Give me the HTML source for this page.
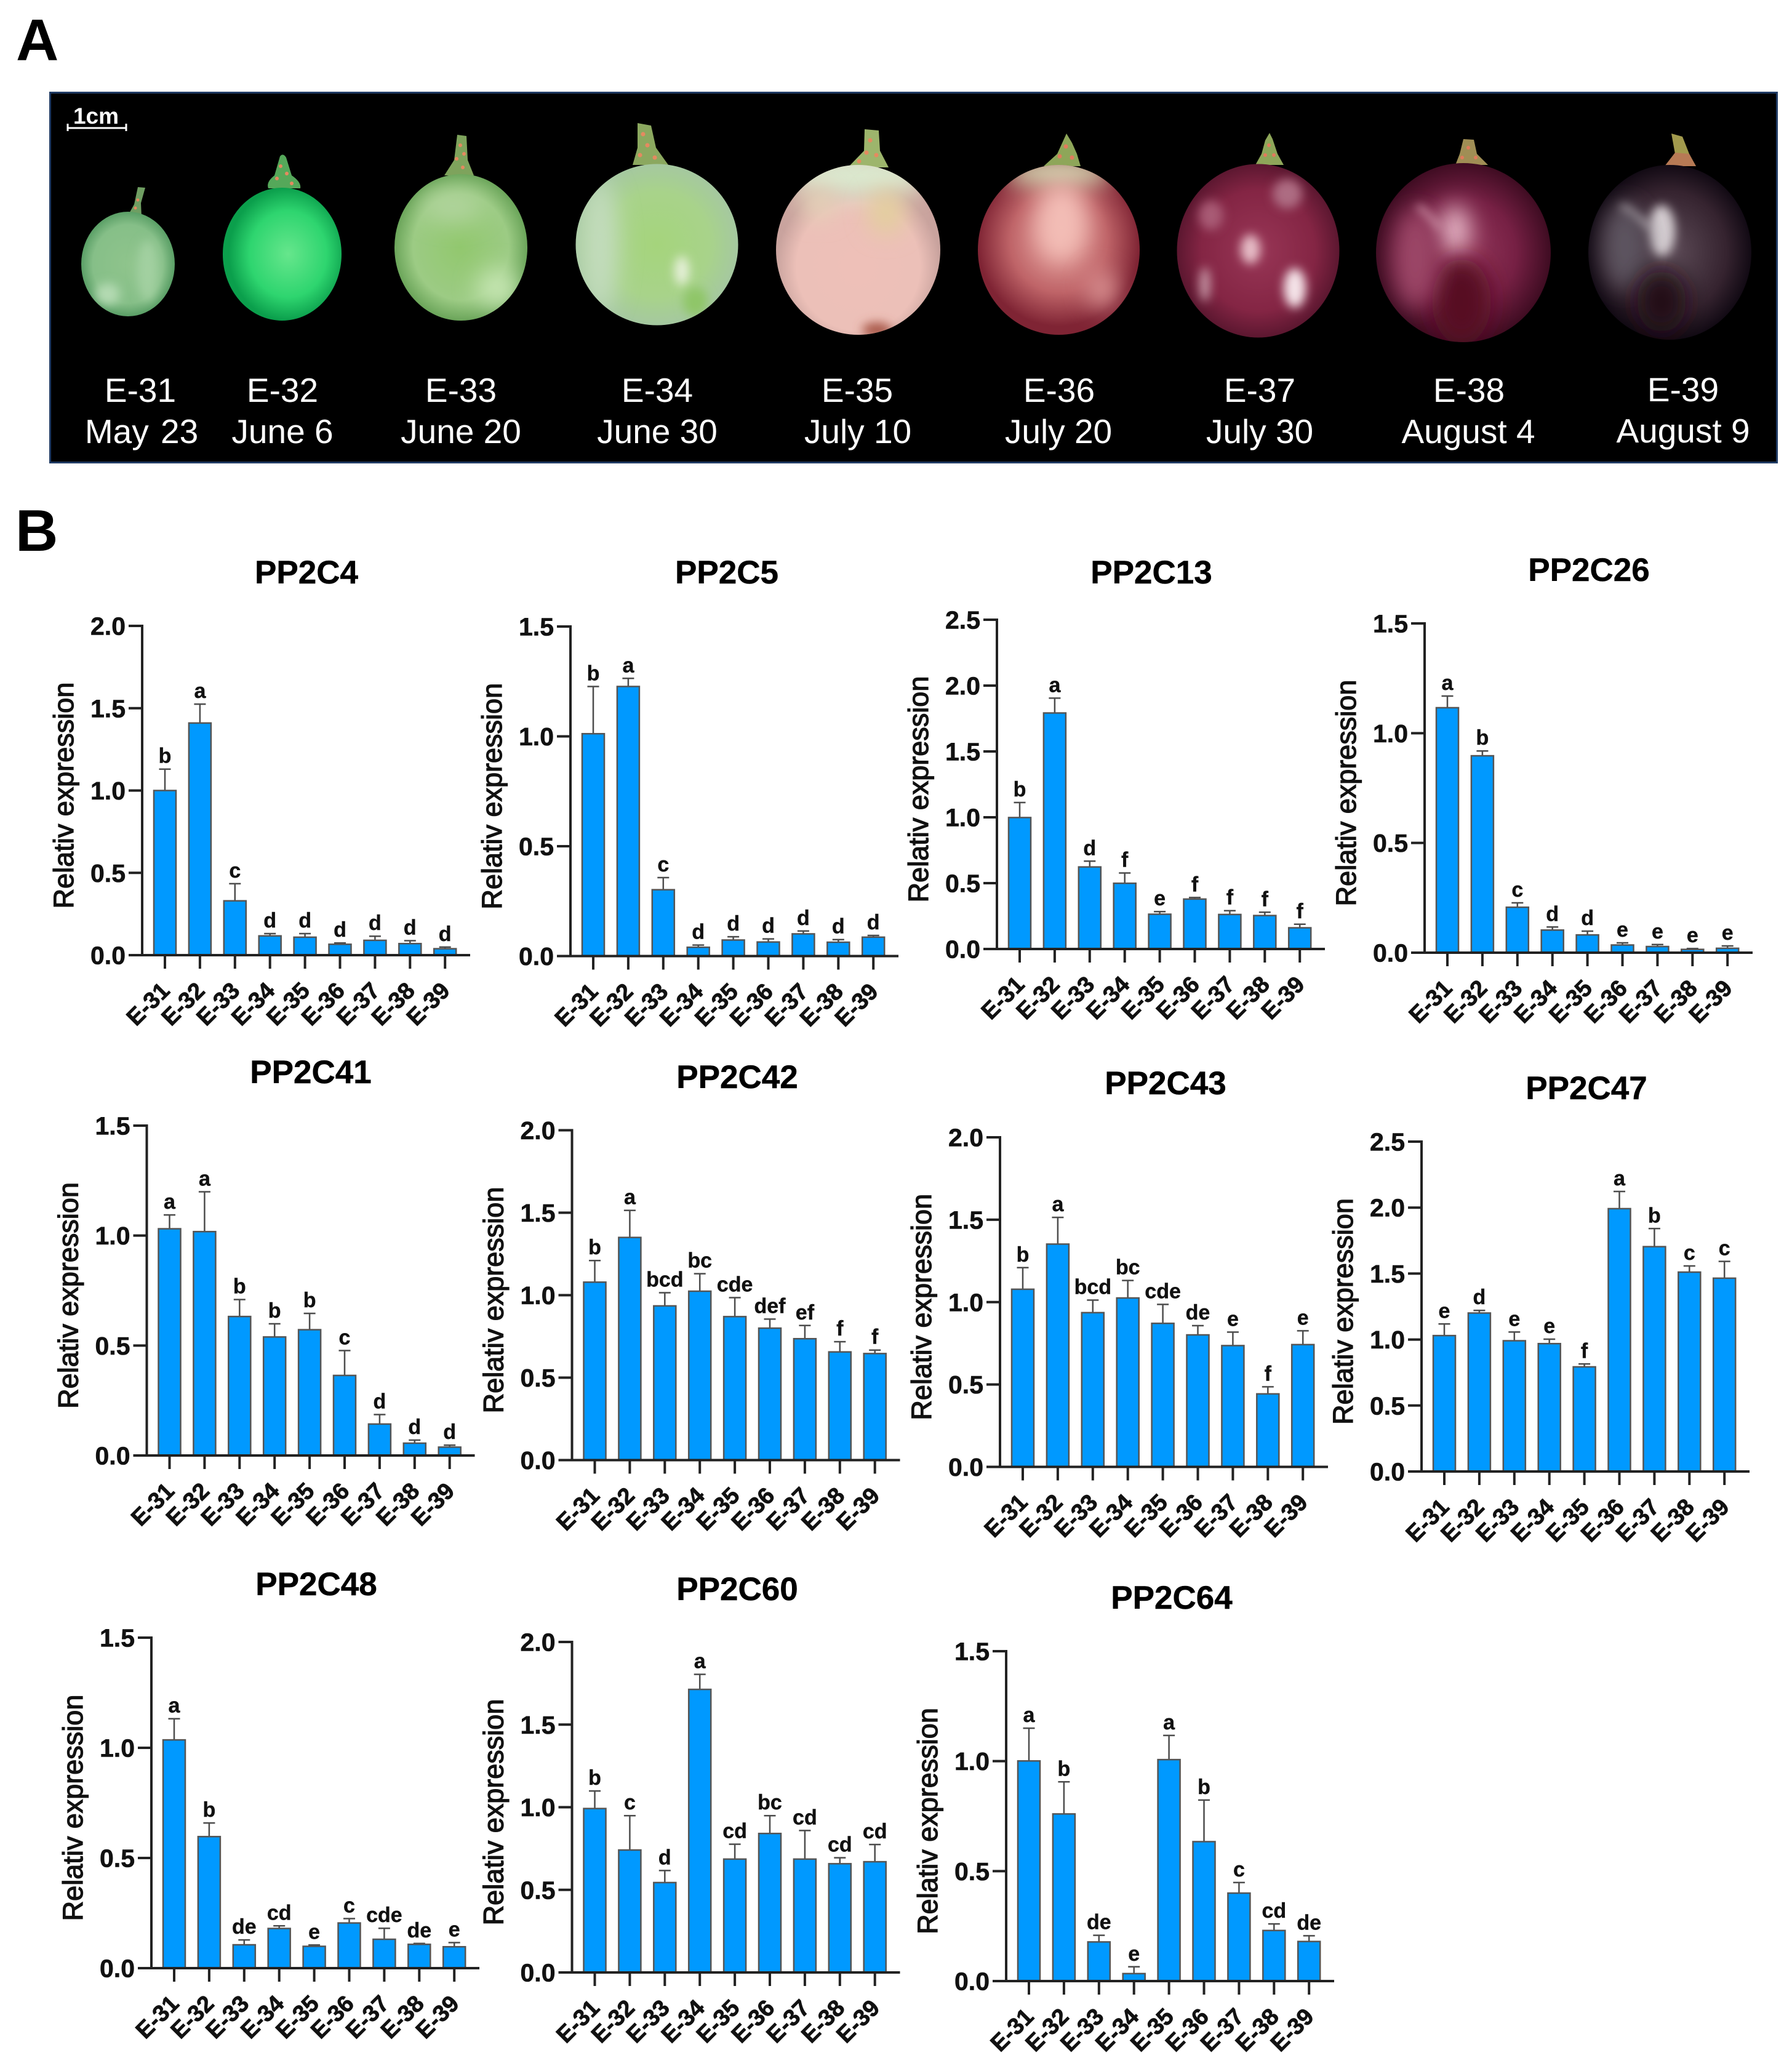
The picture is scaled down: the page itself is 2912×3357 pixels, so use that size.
<!DOCTYPE html>
<html lang="en">
<head>
<meta charset="utf-8">
<title>PP2C expression during grape berry development</title>
<style>
html,body{margin:0;padding:0;background:#fff;}
svg{display:block;font-family:"Liberation Sans",sans-serif;}
.cap{fill:#fff;font-size:55px;text-anchor:middle;}
</style>
</head>
<body>
<svg id="figure" xmlns="http://www.w3.org/2000/svg" width="2912" height="3357" viewBox="0 0 2912 3357">
<defs>
<filter id="b8" x="-80%" y="-80%" width="260%" height="260%"><feGaussianBlur stdDeviation="8"/></filter>
<filter id="b18" x="-80%" y="-80%" width="260%" height="260%"><feGaussianBlur stdDeviation="18"/></filter>
<radialGradient id="g31"><stop offset="0" stop-color="#8fc48c"/><stop offset=".75" stop-color="#86bf88"/><stop offset="1" stop-color="#5a9f66"/></radialGradient>
<radialGradient id="g32" cx=".55" cy=".5"><stop offset="0" stop-color="#66e68c"/><stop offset=".65" stop-color="#2ed56f"/><stop offset="1" stop-color="#0b9f4c"/></radialGradient>
<radialGradient id="g33"><stop offset="0" stop-color="#92c86e"/><stop offset=".72" stop-color="#9ccb84"/><stop offset="1" stop-color="#6ba55a"/></radialGradient>
<radialGradient id="g34"><stop offset="0" stop-color="#a5d47c"/><stop offset=".65" stop-color="#a8d38a"/><stop offset="1" stop-color="#a5c8a0"/></radialGradient>
<radialGradient id="g35" cy=".6"><stop offset="0" stop-color="#eec0b8"/><stop offset=".75" stop-color="#ecc0b8"/><stop offset="1" stop-color="#c9a39e"/></radialGradient>
<radialGradient id="g36" cy=".45"><stop offset="0" stop-color="#e6a5a0"/><stop offset=".6" stop-color="#bf6468"/><stop offset="1" stop-color="#7f2434"/></radialGradient>
<radialGradient id="g37"><stop offset="0" stop-color="#983656"/><stop offset=".7" stop-color="#842544"/><stop offset="1" stop-color="#5c1730"/></radialGradient>
<radialGradient id="g38"><stop offset="0" stop-color="#96385c"/><stop offset=".6" stop-color="#762044"/><stop offset="1" stop-color="#3f0c22"/></radialGradient>
<radialGradient id="g39"><stop offset="0" stop-color="#5e4c58"/><stop offset=".7" stop-color="#35232f"/><stop offset="1" stop-color="#120a14"/></radialGradient>
<clipPath id="c31"><ellipse cx="208" cy="429" rx="76" ry="85"/></clipPath>
<clipPath id="c33"><ellipse cx="749" cy="402" rx="108" ry="119"/></clipPath>
<clipPath id="c34"><ellipse cx="1067.5" cy="397.5" rx="132" ry="131"/></clipPath>
<clipPath id="c35"><ellipse cx="1394.5" cy="406" rx="133.5" ry="138"/></clipPath>
<clipPath id="c36"><ellipse cx="1720.5" cy="406" rx="131.5" ry="138"/></clipPath>
<clipPath id="c37"><ellipse cx="2044.5" cy="407.5" rx="132" ry="141"/></clipPath>
<clipPath id="c38"><ellipse cx="2378" cy="410.5" rx="142" ry="145.5"/></clipPath>
<clipPath id="c39"><ellipse cx="2713.5" cy="410" rx="132.5" ry="142"/></clipPath>
</defs>

<text x="26" y="98" font-size="96" font-weight="700" fill="#000">A</text>
<rect x="81.5" y="150.5" width="2806" height="601" fill="#000" stroke="#1f3a63" stroke-width="3"/>

<g>
<text x="156" y="201" font-size="37" font-weight="700" fill="#fff" text-anchor="middle">1cm</text>
<path d="M109 208H206M110 201V213M205 201V213" stroke="#fff" stroke-width="3" fill="none"/>
</g>

<g>
<path d="M224 304L236 305L229 330L230 352L208 350L218 332Z" fill="#6f9e62"/>
<circle cx="224" cy="325" r="2.500" fill="#e58a60"/><circle cx="220" cy="338" r="2.500" fill="#e58a60"/>
<ellipse cx="208" cy="429" rx="76" ry="85" fill="url(#g31)"/>
<g clip-path="url(#c31)"><ellipse cx="175" cy="478" rx="20" ry="18" fill="#b4dab2" filter="url(#b8)"/><ellipse cx="240" cy="440" rx="18" ry="50" fill="#a2d0a0" filter="url(#b8)"/></g>
</g>
<g>
<path d="M455 254Q460 248 465 256L474 285Q490 296 488 306L436 306Q432 296 446 285Z" fill="#55a85a"/>
<circle cx="456" cy="270" r="3" fill="#e58a60"/><circle cx="450" cy="290" r="3" fill="#e58a60"/><circle cx="466" cy="282" r="3" fill="#e58a60"/><circle cx="474" cy="298" r="3" fill="#e58a60"/>
<ellipse cx="458.500" cy="413" rx="96.500" ry="108" fill="url(#g32)"/>
</g>
<g>
<path d="M743 219L758 221L760 260L770 285L722 285L738 260Z" fill="#7ea35c"/>
<circle cx="748" cy="236" r="3" fill="#e58a60"/><circle cx="754" cy="250" r="3" fill="#e58a60"/><circle cx="742" cy="258" r="3" fill="#e58a60"/><circle cx="752" cy="272" r="3" fill="#e58a60"/>
<ellipse cx="749" cy="402" rx="108" ry="119" fill="url(#g33)"/>
<g clip-path="url(#c33)"><ellipse cx="810" cy="470" rx="36" ry="34" fill="#c4e5b0" filter="url(#b18)"/><ellipse cx="735" cy="335" rx="50" ry="26" fill="#b0d49c" filter="url(#b18)"/></g>
</g>
<g>
<path d="M1036 200L1058 204L1066 240L1086 268L1028 268L1036 240Z" fill="#8ba85f"/>
<circle cx="1045" cy="218" r="3.500" fill="#e58a60"/><circle cx="1052" cy="236" r="3.500" fill="#e58a60"/><circle cx="1040" cy="252" r="3.500" fill="#e58a60"/><circle cx="1064" cy="256" r="3.500" fill="#e58a60"/>
<ellipse cx="1067.500" cy="397.500" rx="132" ry="131" fill="url(#g34)"/>
<g clip-path="url(#c34)"><ellipse cx="975" cy="400" rx="30" ry="110" fill="#c3dcbd" filter="url(#b18)"/><ellipse cx="1108" cy="440" rx="12" ry="24" fill="#e6f0d9" filter="url(#b8)"/><ellipse cx="1130" cy="490" rx="20" ry="24" fill="#8fc668" filter="url(#b8)"/></g>
</g>
<g>
<path d="M1405 210L1428 212L1430 245L1444 272L1378 272L1404 245Z" fill="#9db56c"/>
<circle cx="1414" cy="228" r="3.500" fill="#e58a60"/><circle cx="1408" cy="248" r="3.500" fill="#e58a60"/><circle cx="1424" cy="252" r="3.500" fill="#e58a60"/><circle cx="1396" cy="262" r="3.500" fill="#e58a60"/>
<ellipse cx="1394.500" cy="406" rx="133.500" ry="138" fill="url(#g35)"/>
<g clip-path="url(#c35)"><ellipse cx="1395" cy="285" rx="115" ry="36" fill="#dbe9cf" filter="url(#b18)"/><ellipse cx="1440" cy="345" rx="30" ry="36" fill="#e3cf9e" filter="url(#b18)"/><ellipse cx="1330" cy="330" rx="30" ry="25" fill="#e5d2b8" filter="url(#b18)"/><ellipse cx="1425" cy="536" rx="24" ry="12" fill="#a9594a" filter="url(#b8)"/></g>
</g>
<g>
<path d="M1733 217L1742 232L1750 250L1756 270L1696 270L1718 250Z" fill="#8ea659"/>
<circle cx="1732" cy="238" r="3.500" fill="#e27a5c"/><circle cx="1722" cy="254" r="3.500" fill="#e27a5c"/><circle cx="1742" cy="256" r="3.500" fill="#e27a5c"/>
<ellipse cx="1720.500" cy="406" rx="131.500" ry="138" fill="url(#g36)"/>
<g clip-path="url(#c36)"><ellipse cx="1720" cy="280" rx="90" ry="22" fill="#d5ddb5" filter="url(#b18)"/><ellipse cx="1725" cy="360" rx="42" ry="62" fill="#f3bdb6" filter="url(#b18)"/><ellipse cx="1790" cy="470" rx="26" ry="32" fill="#d98f90" filter="url(#b18)"/></g>
</g>
<g>
<path d="M2063 216L2068 226L2076 250L2086 268L2040 268L2050 250L2056 228Z" fill="#8ea659"/>
<circle cx="2062" cy="236" r="3" fill="#e27a5c"/><circle cx="2056" cy="252" r="3" fill="#e27a5c"/><circle cx="2070" cy="252" r="3" fill="#e27a5c"/>
<ellipse cx="2044.500" cy="407.500" rx="132" ry="141" fill="url(#g37)"/>
<g clip-path="url(#c37)"><ellipse cx="2032" cy="405" rx="16" ry="24" fill="#e6bcc6" filter="url(#b8)"/><ellipse cx="2104" cy="468" rx="18" ry="32" fill="#f4e3e8" filter="url(#b8)"/><ellipse cx="2092" cy="315" rx="24" ry="24" fill="#ad6c82" filter="url(#b8)"/><ellipse cx="1958" cy="462" rx="9" ry="28" fill="#c292a1" filter="url(#b8)"/><ellipse cx="1968" cy="350" rx="20" ry="24" fill="#a85a74" filter="url(#b8)"/></g>
</g>
<g>
<path d="M2378 226L2395 227L2400 250L2418 268L2365 268L2372 250Z" fill="#a08e55"/>
<circle cx="2386" cy="240" r="3" fill="#e27a5c"/><circle cx="2376" cy="256" r="3" fill="#e27a5c"/><circle cx="2398" cy="256" r="3" fill="#e27a5c"/>
<ellipse cx="2378" cy="410.500" rx="142" ry="145.500" fill="url(#g38)"/>
<g clip-path="url(#c38)"><ellipse cx="2364" cy="375" rx="26" ry="42" fill="#e4b4c4" filter="url(#b18)"/><path d="M2304 335L2340 372" stroke="#dca8ba" stroke-width="10" filter="url(#b8)"/><ellipse cx="2375" cy="490" rx="48" ry="70" fill="#560a24" filter="url(#b18)"/><ellipse cx="2300" cy="420" rx="34" ry="80" fill="#9c4668" filter="url(#b18)"/></g>
</g>
<g>
<path d="M2716 217L2734 222L2745 250L2756 270L2705 270L2722 250Z" fill="#a29a4d"/>
<path d="M2722 248L2745 250L2756 270L2705 270Z" fill="#b77a55"/>
<ellipse cx="2713.500" cy="410" rx="132.500" ry="142" fill="url(#g39)"/>
<g clip-path="url(#c39)"><ellipse cx="2700" cy="375" rx="22" ry="42" fill="#d5ced2" filter="url(#b8)"/><path d="M2635 335L2680 370" stroke="#e1dadd" stroke-width="10" filter="url(#b8)"/><path d="M2600 420H2820" stroke="#6d636a" stroke-width="14" filter="url(#b8)"/><ellipse cx="2640" cy="400" rx="36" ry="70" fill="#5d5560" filter="url(#b18)"/><ellipse cx="2700" cy="490" rx="40" ry="50" fill="#200914" filter="url(#b18)"/></g>
</g>

<g fill="#fff">
<text class="cap" x="228" y="653">E-31</text>
<text class="cap" x="230" y="720" word-spacing="4">May 23</text>
<text class="cap" x="459" y="653">E-32</text>
<text class="cap" x="459" y="720">June 6</text>
<text class="cap" x="749" y="653">E-33</text>
<text class="cap" x="749" y="720">June 20</text>
<text class="cap" x="1068" y="653">E-34</text>
<text class="cap" x="1068" y="720">June 30</text>
<text class="cap" x="1393" y="653">E-35</text>
<text class="cap" x="1394" y="720">July 10</text>
<text class="cap" x="1721" y="653">E-36</text>
<text class="cap" x="1720" y="720">July 20</text>
<text class="cap" x="2047" y="653">E-37</text>
<text class="cap" x="2047" y="720">July 30</text>
<text class="cap" x="2387" y="653">E-38</text>
<text class="cap" x="2386" y="720">August 4</text>
<text class="cap" x="2735" y="652">E-39</text>
<text class="cap" x="2735" y="719">August 9</text>
</g>

<text x="25" y="895" font-size="96" font-weight="700" fill="#000">B</text>
<g id="charts"></g>
</svg>

<script>
const categories = ['E-31','E-32','E-33','E-34','E-35','E-36','E-37','E-38','E-39'];
const ticks15 = [0, 0.5, 1.0, 1.5];
const ticks20 = [0, 0.5, 1.0, 1.5, 2.0];
const ticks25 = [0, 0.5, 1.0, 1.5, 2.0, 2.5];

const pp2c4Values = [1.0, 1.41, 0.33, 0.117, 0.109, 0.066, 0.09, 0.07, 0.039];
const pp2c4Errors = [0.13, 0.115, 0.104, 0.014, 0.022, 0.008, 0.025, 0.018, 0.01];
const pp2c4Letters = ['b','a','c','d','d','d','d','d','d'];

const pp2c5Values = [1.012, 1.227, 0.302, 0.04, 0.073, 0.064, 0.101, 0.063, 0.086];
const pp2c5Errors = [0.215, 0.037, 0.055, 0.01, 0.015, 0.014, 0.013, 0.012, 0.008];
const pp2c5Letters = ['b','a','c','d','d','d','d','d','d'];

const pp2c13Values = [0.998, 1.792, 0.623, 0.499, 0.264, 0.379, 0.262, 0.254, 0.161];
const pp2c13Errors = [0.114, 0.113, 0.044, 0.078, 0.02, 0.012, 0.029, 0.025, 0.027];
const pp2c13Letters = ['b','a','d','f','e','f','f','f','f'];

const pp2c26Values = [1.116, 0.897, 0.207, 0.103, 0.081, 0.035, 0.028, 0.015, 0.02];
const pp2c26Errors = [0.053, 0.022, 0.02, 0.014, 0.017, 0.01, 0.009, 0.004, 0.011];
const pp2c26Letters = ['a','b','c','d','d','e','e','e','e'];

const pp2c41Values = [1.031, 1.018, 0.632, 0.539, 0.572, 0.364, 0.143, 0.056, 0.038];
const pp2c41Errors = [0.063, 0.181, 0.077, 0.06, 0.074, 0.113, 0.043, 0.014, 0.009];
const pp2c41Letters = ['a','a','b','b','b','c','d','d','d'];

const pp2c42Values = [1.079, 1.35, 0.935, 1.024, 0.87, 0.8, 0.736, 0.656, 0.646];
const pp2c42Errors = [0.131, 0.164, 0.08, 0.106, 0.115, 0.055, 0.08, 0.062, 0.021];
const pp2c42Letters = ['b','a','bcd','bc','cde','def','ef','f','f'];

const pp2c43Values = [1.078, 1.352, 0.936, 1.025, 0.871, 0.801, 0.736, 0.443, 0.742];
const pp2c43Errors = [0.131, 0.162, 0.076, 0.106, 0.115, 0.056, 0.082, 0.043, 0.084];
const pp2c43Letters = ['b','a','bcd','bc','cde','de','e','f','e'];

const pp2c47Values = [1.03, 1.201, 0.991, 0.969, 0.793, 1.992, 1.704, 1.511, 1.465];
const pp2c47Errors = [0.088, 0.02, 0.066, 0.034, 0.022, 0.13, 0.137, 0.047, 0.127];
const pp2c47Letters = ['e','d','e','e','f','a','b','c','c'];

const pp2c48Values = [1.036, 0.597, 0.106, 0.18, 0.099, 0.205, 0.131, 0.108, 0.097];
const pp2c48Errors = [0.096, 0.062, 0.022, 0.012, 0.006, 0.02, 0.05, 0.004, 0.019];
const pp2c48Letters = ['a','b','de','cd','e','c','cde','de','e'];

const pp2c60Values = [0.992, 0.741, 0.544, 1.713, 0.686, 0.841, 0.686, 0.658, 0.67];
const pp2c60Errors = [0.106, 0.208, 0.073, 0.091, 0.09, 0.108, 0.173, 0.036, 0.104];
const pp2c60Letters = ['b','c','d','a','cd','bc','cd','cd','cd'];

const pp2c64Values = [1.001, 0.76, 0.178, 0.034, 1.007, 0.634, 0.4, 0.23, 0.18];
const pp2c64Errors = [0.149, 0.146, 0.03, 0.031, 0.11, 0.189, 0.048, 0.03, 0.026];
const pp2c64Letters = ['a','b','de','e','a','b','c','cd','de'];

const SVG_NS = 'http://www.w3.org/2000/svg';
const chartsRoot = document.getElementById('charts');

function mk(parent, tag, attrs, txt) {
  const node = document.createElementNS(SVG_NS, tag);
  for (const k in attrs) node.setAttribute(k, attrs[k]);
  if (txt !== undefined) node.textContent = txt;
  parent.appendChild(node);
  return node;
}

function drawChart(cfg) {
  const yScale = v => cfg.bottom - (v / cfg.yMax) * (cfg.bottom - cfg.top);
  const xScale = i => cfg.axisX + 37 + i * 56.9;
  const slug = cfg.title.toLowerCase();

  const g = mk(chartsRoot, 'g', {});
  
  

  const title = mk(g, 'text', {x: cfg.titleX, y: cfg.titleY, 'font-size': 53, 'font-weight': 700, 'text-anchor': 'middle', fill: '#000', stroke: '#000', 'stroke-width': 0.5});
  title.textContent = cfg.title;
  
  

  const yTitle = mk(g, 'text', {
    transform: 'translate(' + (cfg.axisX - 112) + ',' + ((cfg.top + cfg.bottom) / 2 + 8) + ') rotate(-90)',
    'font-size': 45, 'text-anchor': 'middle', fill: '#111', stroke: '#111', 'stroke-width': 1.3
  }, 'Relativ expression');
  
  

  categories.forEach((cat, i) => {
    const x = xScale(i);
    const v = cfg.values[i];
    const e = cfg.errors[i];
    const errTop = yScale(v + e);

    const errLine = mk(g, 'path', {d: 'M' + x + ' ' + yScale(v) + 'V' + errTop + 'M' + (x - 9.5) + ' ' + errTop + 'H' + (x + 9.5), stroke: '#4d4d4d', 'stroke-width': 2.5, fill: 'none'});
    
    

    const bar = mk(g, 'rect', {x: x - 18, y: yScale(v), width: 36, height: cfg.bottom - yScale(v), fill: '#0099ff', stroke: '#555', 'stroke-width': 2.5});
    
    

    const letter = mk(g, 'text', {x: x, y: errTop - 10, 'font-size': 34, 'font-weight': 700, 'text-anchor': 'middle', fill: '#111', stroke: '#111', 'stroke-width': 0.4}, cfg.letters[i]);
    
    

    const tick = mk(g, 'line', {x1: x, x2: x, y1: cfg.bottom, y2: cfg.bottom + 22, stroke: '#222', 'stroke-width': 4});
    
    

    const px = x + 10;
    const py = cfg.bottom + 60;
    const label = mk(g, 'text', {transform: 'translate(' + px + ',' + py + ') rotate(-45)', 'font-size': 38, 'font-weight': 700, 'text-anchor': 'end', fill: '#111', stroke: '#111', 'stroke-width': 0.8}, cat);
    
    
  });

  cfg.ticks.forEach(t => {
    const y = yScale(t);
    const tick = mk(g, 'line', {x1: cfg.axisX - 22, x2: cfg.axisX, y1: y, y2: y, stroke: '#222', 'stroke-width': 4});
    
    

    const label = mk(g, 'text', {x: cfg.axisX - 27, y: y + 14.5, 'font-size': 41, 'font-weight': 700, 'text-anchor': 'end', fill: '#111', stroke: '#111', 'stroke-width': 0.6}, t.toFixed(1));
    
    
  });

  const yAxis = mk(g, 'line', {x1: cfg.axisX, x2: cfg.axisX, y1: cfg.top - 2, y2: cfg.bottom + 2, stroke: '#222', 'stroke-width': 4});
  
  

  const xAxis = mk(g, 'line', {x1: cfg.axisX - 22, x2: cfg.axisX + 533, y1: cfg.bottom, y2: cfg.bottom, stroke: '#222', 'stroke-width': 4});
  
  
}

drawChart({title:'PP2C4', values:pp2c4Values, errors:pp2c4Errors, letters:pp2c4Letters, ticks:ticks20, yMax:2.0, axisX:231, top:1017, bottom:1552, titleX:498, titleY:948});
drawChart({title:'PP2C5', values:pp2c5Values, errors:pp2c5Errors, letters:pp2c5Letters, ticks:ticks15, yMax:1.5, axisX:927, top:1018, bottom:1553.5, titleX:1181, titleY:948});
drawChart({title:'PP2C13', values:pp2c13Values, errors:pp2c13Errors, letters:pp2c13Letters, ticks:ticks25, yMax:2.5, axisX:1620, top:1007, bottom:1542, titleX:1871, titleY:948});
drawChart({title:'PP2C26', values:pp2c26Values, errors:pp2c26Errors, letters:pp2c26Letters, ticks:ticks15, yMax:1.5, axisX:2315, top:1013, bottom:1548, titleX:2582, titleY:944});
drawChart({title:'PP2C41', values:pp2c41Values, errors:pp2c41Errors, letters:pp2c41Letters, ticks:ticks15, yMax:1.5, axisX:238.5, top:1829, bottom:2365, titleX:505, titleY:1760});
drawChart({title:'PP2C42', values:pp2c42Values, errors:pp2c42Errors, letters:pp2c42Letters, ticks:ticks20, yMax:2.0, axisX:929.5, top:1836.5, bottom:2372.5, titleX:1198, titleY:1768});
drawChart({title:'PP2C43', values:pp2c43Values, errors:pp2c43Errors, letters:pp2c43Letters, ticks:ticks20, yMax:2.0, axisX:1625, top:1848, bottom:2383.5, titleX:1894, titleY:1778});
drawChart({title:'PP2C47', values:pp2c47Values, errors:pp2c47Errors, letters:pp2c47Letters, ticks:ticks25, yMax:2.5, axisX:2310, top:1855, bottom:2391, titleX:2578, titleY:1786});
drawChart({title:'PP2C48', values:pp2c48Values, errors:pp2c48Errors, letters:pp2c48Letters, ticks:ticks15, yMax:1.5, axisX:246, top:2661, bottom:3198, titleX:514, titleY:2592});
drawChart({title:'PP2C60', values:pp2c60Values, errors:pp2c60Errors, letters:pp2c60Letters, ticks:ticks20, yMax:2.0, axisX:929.5, top:2668, bottom:3205, titleX:1198, titleY:2600});
drawChart({title:'PP2C64', values:pp2c64Values, errors:pp2c64Errors, letters:pp2c64Letters, ticks:ticks15, yMax:1.5, axisX:1635, top:2683, bottom:3219, titleX:1904, titleY:2614});
</script>
</body>
</html>
